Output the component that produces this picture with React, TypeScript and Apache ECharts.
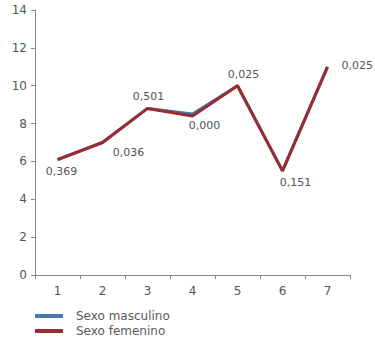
import React, { useEffect, useRef } from "react";
import * as echarts from "echarts";

const categories = ["1", "2", "3", "4", "5", "6", "7"];
const masculino = [6.1, 7.0, 8.8, 8.5, 10.0, 5.5, 11.0];
const femenino = [6.1, 7.0, 8.8, 8.4, 10.0, 5.5, 11.0];
const pointLabels = ["0,369", "0,036", "0,501", "0,000", "0,025", "0,151", "0,025"];
const labelPos = ["bottom", "bottom", "top", "bottom", "top", "bottom", "right"];
const labelOffset = [[4, 0], [26, -2], [1, 0], [12, -2], [6, 0], [13, 0], [8, -1]];

export default function App() {
  const ref = useRef<HTMLDivElement>(null);
  useEffect(() => {
    const chart = echarts.init(ref.current!, null, { renderer: "svg" });
    const font = "DejaVu Sans";
    const legendBase = {
      orient: "horizontal",
      left: 35,
      itemWidth: 28,
      itemHeight: 4,
      icon: "rect",
      padding: 0,
      textStyle: { fontFamily: font, fontSize: 12, color: "#5a5a5a", padding: [0, 0, 0, 8] },
    };
    chart.setOption({
      animation: false,
      textStyle: { fontFamily: font },
      grid: { left: 35, top: 10, right: 25, bottom: 75 },
      legend: [
        { ...legendBase, top: 310, data: ["Sexo masculino"] },
        { ...legendBase, top: 325, data: ["Sexo femenino"] },
      ],
      xAxis: {
        type: "category",
        data: categories,
        boundaryGap: true,
        axisLine: { lineStyle: { color: "#888" } },
        axisTick: { show: true, length: 4, lineStyle: { color: "#888" } },
        axisLabel: { color: "#555", fontSize: 12, margin: 10, fontFamily: font },
      },
      yAxis: {
        type: "value",
        min: 0,
        max: 14,
        interval: 2,
        axisLine: { show: true, lineStyle: { color: "#888" } },
        axisTick: { show: true, length: 4, lineStyle: { color: "#888" } },
        splitLine: { show: false },
        axisLabel: { color: "#555", fontSize: 12, margin: 8, fontFamily: font },
      },
      series: [
        {
          name: "Sexo masculino",
          type: "line",
          data: masculino,
          symbol: "none",
          lineStyle: { color: "#4a78a8", width: 3 },
          itemStyle: { color: "#4a78a8" },
        },
        {
          name: "Sexo femenino",
          type: "line",
          data: femenino.map((v, i) => ({
            value: v,
            label: {
              show: true,
              formatter: pointLabels[i],
              position: labelPos[i],
              offset: labelOffset[i],
              distance: 6,
              color: "#555",
              fontSize: 11,
              fontFamily: font,
            },
          })),
          symbol: "circle",
          symbolSize: 0,
          showSymbol: true,
          lineStyle: { color: "#9b2b33", width: 3 },
          itemStyle: { color: "#9b2b33" },
        },
      ],
    });
    return () => chart.dispose();
  }, []);
  return (
    <div
      ref={ref}
      style={{ position: "fixed", left: 0, top: 0, width: 375, height: 350, background: "#fff" }}
    />
  );
}
